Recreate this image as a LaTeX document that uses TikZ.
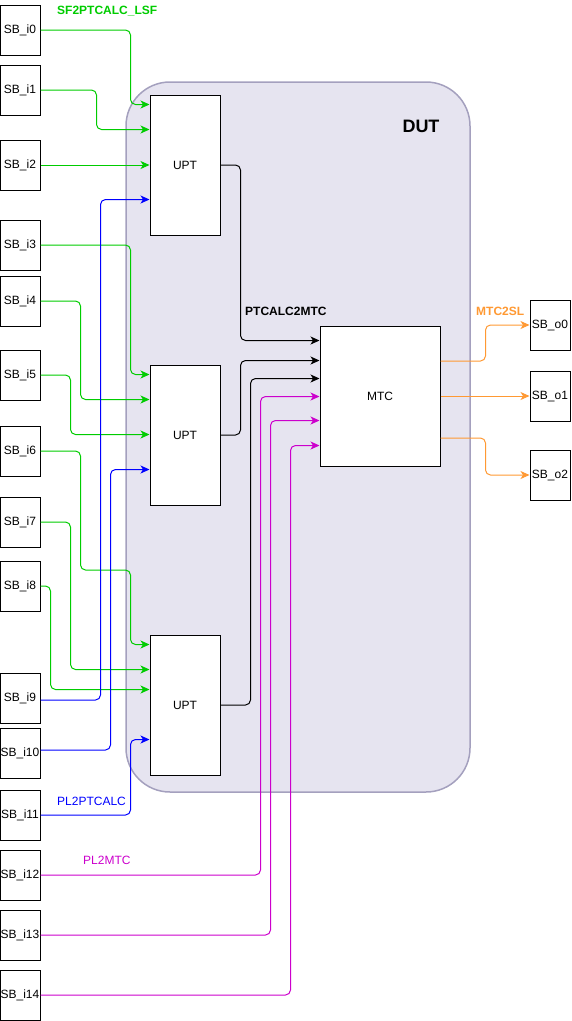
\documentclass[tikz,border=0pt]{standalone}
\usepackage{fontspec}
\setmainfont{Liberation Sans}
\usetikzlibrary{arrows.meta,calc}
\definecolor{dutfill}{RGB}{230,228,240}
\definecolor{dutline}{RGB}{164,160,190}
\definecolor{cgreen}{RGB}{0,204,0}
\definecolor{cblue}{RGB}{0,0,255}
\definecolor{cmag}{RGB}{204,0,204}
\definecolor{corange}{RGB}{255,153,51}
\begin{document}
\begin{tikzpicture}[x=1pt,y=-1pt,
  font=\fontsize{12}{14}\selectfont,
  sbbox/.style={draw, fill=white, minimum width=40pt, minimum height=50pt, inner sep=0pt, line width=1pt},
  block/.style={draw, fill=white, inner sep=0pt, line width=1pt},
  wire/.style={line width=1pt, rounded corners=5pt, -{Stealth[length=9pt,width=8pt,inset=2.5pt]}},
  gw/.style={wire, draw=cgreen},
  bw/.style={wire, draw=cblue},
  kw/.style={wire, draw=black},
  mw/.style={wire, draw=cmag},
  ow/.style={wire, draw=corange},
  lbl/.style={inner sep=0pt, font=\fontsize{12}{14}\selectfont\bfseries}
]
\useasboundingbox (0,0) rectangle (571,1021);

% device under test
\node[draw=dutline, fill=dutfill, line width=1.5pt, rounded corners=44pt,
      minimum width=344pt, minimum height=710pt] (dut) at (298,437) {};
\node[inner sep=0pt, font=\fontsize{18}{20}\selectfont\bfseries] (dutlbl) at (421,126) {DUT};

% processing blocks
\node[block, minimum width=70pt, minimum height=140pt] (upt1) at (185,165) {UPT};
\node[block, minimum width=70pt, minimum height=140pt] (upt2) at (185,435) {UPT};
\node[block, minimum width=70pt, minimum height=140pt] (upt3) at (185,705) {UPT};
\node[block, minimum width=120pt, minimum height=140pt] (mtc) at (380,396) {MTC};

% input stubs
\foreach \n/\y in {0/30,1/90,2/165,3/245,4/301,5/375,6/451,7/522,8/586,9/698,10/753,11/815,12/875,13/935,14/995}
  \node[sbbox] (i\n) at (20,\y) {SB\_i\n};

% output stubs
\node[sbbox] (o0) at (550,325) {SB\_o0};
\node[sbbox] (o1) at (550,396) {SB\_o1};
\node[sbbox] (o2) at (550,475) {SB\_o2};

% SF2PTCALC_LSF inputs
\draw[gw] (i0.east) -- ++(90,0) |- ([yshift=-10pt]upt1.north west);
\draw[gw] (i1.east) -- ++(56,0) |- ([yshift=-35pt]upt1.north west);
\draw[gw] (i2.east) -- (upt1.west);
\draw[gw] (i3.east) -- ++(90,0) |- ([yshift=-10pt]upt2.north west);
\draw[gw] (i4.east) -- ++(40,0) |- ([yshift=-35pt]upt2.north west);
\draw[gw] (i5.east) -- ++(30,0) |- ([yshift=-70pt]upt2.north west);
\draw[gw] (i6.east) -- ++(40,0) -- ++(0,119) -- ++(50,0) |- ([yshift=-10pt]upt3.north west);
\draw[gw] (i7.east) -- ++(30,0) |- ([yshift=-35pt]upt3.north west);
\draw[gw] (i8.east) -- ++(10,0) |- ([yshift=-55pt]upt3.north west);

% PL2PTCALC inputs
\draw[bw] ([yshift=-2pt]i9.east) -- ++(60,0) |- ([yshift=-105pt]upt1.north west);
\draw[bw] ([yshift=3pt]i10.east) -- ++(70,0) |- ([yshift=-105pt]upt2.north west);
\draw[bw] (i11.east) -- ++(90,0) |- ([yshift=-105pt]upt3.north west);

% PTCALC2MTC
\draw[kw] (upt1.east) -- ++(20,0) |- ([yshift=-15pt]mtc.north west);
\draw[kw] (upt2.east) -- ++(20,0) |- ([yshift=-35pt]mtc.north west);
\draw[kw] (upt3.east) -- ++(30,0) |- ([yshift=-53pt]mtc.north west);

% PL2MTC inputs
\draw[mw] (i12.east) -- ++(220,0) |- ([yshift=-71pt]mtc.north west);
\draw[mw] (i13.east) -- ++(230,0) |- ([yshift=-95pt]mtc.north west);
\draw[mw] (i14.east) -- ++(250,0) |- ([yshift=-120pt]mtc.north west);

% MTC2SL outputs
\draw[ow] ([yshift=35pt]mtc.east) -- ++(45,0) |- (o0.west);
\draw[ow] (mtc.east) -- (o1.west);
\draw[ow] ([yshift=-42pt]mtc.east) -- ++(45,0) |- (o2.west);

% bus labels
\node[lbl, text=cgreen, anchor=west] (lsf) at (57,11) {SF2PTCALC\_LSF};
\node[lbl, anchor=west] (p2m) at (245,311) {PTCALC2MTC};
\node[lbl, text=corange, anchor=west] (m2s) at (476,311) {MTC2SL};
\node[inner sep=0pt, text=cblue, anchor=west] (pl2p) at (57,801) {PL2PTCALC};
\node[inner sep=0pt, text=cmag, anchor=west] (pl2m) at (83,860) {PL2MTC};
\end{tikzpicture}
\end{document}
